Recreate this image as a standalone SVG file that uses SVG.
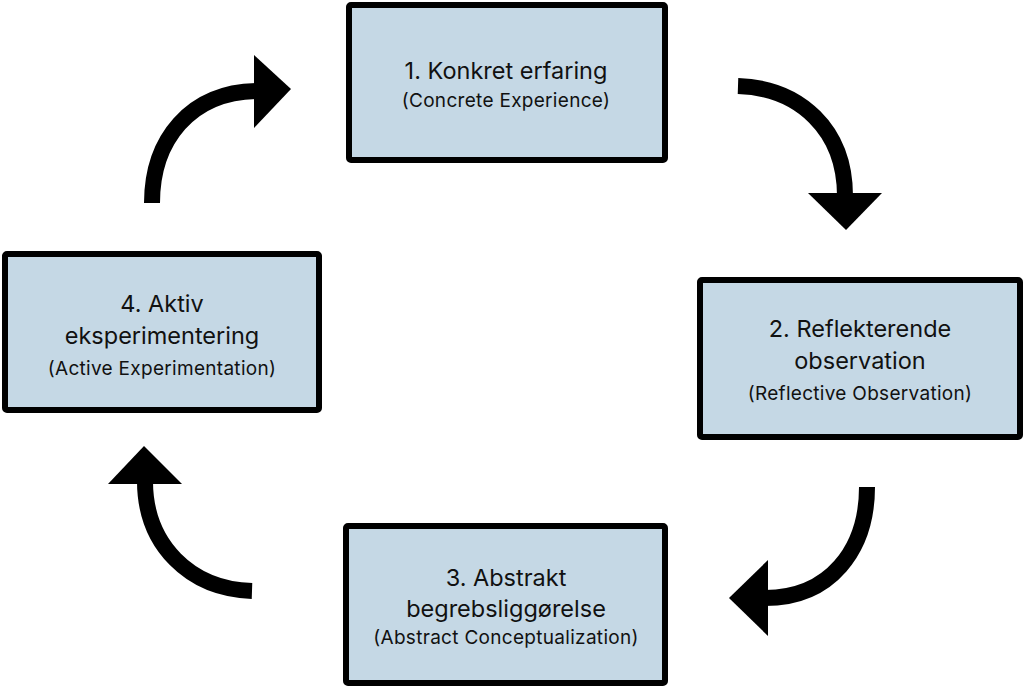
<svg xmlns="http://www.w3.org/2000/svg" width="1024" height="688" viewBox="0 0 1024 688">
<style>
.box{fill:#c5d8e5;stroke:#000;stroke-width:6;}
.t{font-family:Inter,"Noto Sans",sans-serif;font-size:23.5px;fill:#111;text-anchor:middle;}
.s{font-family:Inter,"Noto Sans",sans-serif;font-size:19px;letter-spacing:0.3px;fill:#111;text-anchor:middle;}
.arc{fill:none;stroke:#000;stroke-width:16;}
.head{fill:#000;}
</style>
<rect width="1024" height="688" fill="#fff"/>
<g id="node1">
<rect class="box" x="349" y="5" width="316" height="155" rx="2"/>
<text class="t" x="506" y="79">1. Konkret erfaring</text>
<text class="s" x="506" y="107">(Concrete Experience)</text>
</g>
<g id="node2">
<rect class="box" x="700" y="280" width="320" height="157" rx="2"/>
<text class="t" x="860" y="337">2. Reflekterende</text>
<text class="t" x="860" y="369">observation</text>
<text class="s" x="860" y="400">(Reflective Observation)</text>
</g>
<g id="node3">
<rect class="box" x="346" y="526" width="319" height="157" rx="2"/>
<text class="t" x="506" y="586">3. Abstrakt</text>
<text class="t" x="506" y="617">begrebsliggørelse</text>
<text class="s" x="506" y="644">(Abstract Conceptualization)</text>
</g>
<g id="node4">
<rect class="box" x="5" y="254" width="314" height="156" rx="2"/>
<text class="t" x="162" y="312">4. Aktiv</text>
<text class="t" x="162" y="344">eksperimentering</text>
<text class="s" x="162" y="375">(Active Experimentation)</text>
</g>
<g id="connectors">
<path class="arc" d="M152,203 C152,140 190,92 257,91"/>
<polygon class="head" points="254,55 291,89 254,128"/>
<path class="arc" d="M738,86 C800,88 845,130 845,196"/>
<polygon class="head" points="808,193 882,193 846,230"/>
<path class="arc" d="M867,487 C867,550 830,598 765,598"/>
<polygon class="head" points="768,560 729,598 768,636"/>
<path class="arc" d="M252,591 C190,589 145,545 145,481"/>
<polygon class="head" points="108,484 182,484 144,446"/>
</g>
</svg>
